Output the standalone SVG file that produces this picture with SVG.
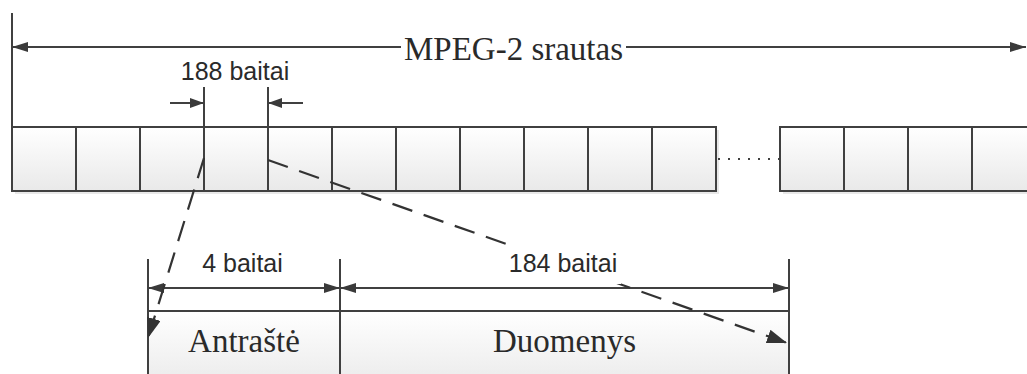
<svg xmlns="http://www.w3.org/2000/svg" width="1027" height="374" viewBox="0 0 1027 374">
  <defs>
    <linearGradient id="cellFill" x1="0" y1="0" x2="0" y2="1">
      <stop offset="0" stop-color="#ffffff"/>
      <stop offset="1" stop-color="#e9e9e9"/>
    </linearGradient>
    <marker id="arrow" viewBox="0 0 16 10" markerUnits="userSpaceOnUse" markerWidth="16" markerHeight="10" refX="16" refY="5" orient="auto-start-reverse">
      <path d="M0,0 L16,5 L0,10 Z" fill="#3a3a3a"/>
    </marker>
    <marker id="arrowSmall" viewBox="0 0 14 10" markerUnits="userSpaceOnUse" markerWidth="14" markerHeight="10" refX="14" refY="5" orient="auto-start-reverse">
      <path d="M0,0 L14,5 L0,10 Z" fill="#3a3a3a"/>
    </marker>
    <marker id="arrowLarge" viewBox="0 0 20 14" markerUnits="userSpaceOnUse" markerWidth="20" markerHeight="14" refX="20" refY="7" orient="auto">
      <path d="M0,0 L20,7 L0,14 Z" fill="#333333"/>
    </marker>
  </defs>
  <style>
    .cell { fill: url(#cellFill); stroke: #404040; stroke-width: 2; }
    .shadow { fill: #d8d8d8; opacity: 0.6; }
    .line { stroke: #404040; stroke-width: 2; fill: none; }
    .dim { stroke: #404040; stroke-width: 2; fill: none; }
    .dash { stroke: #333333; stroke-width: 2.2; fill: none; stroke-dasharray: 21 12; }
    .dots { stroke: #404040; stroke-width: 2; fill: none; stroke-dasharray: 2 8; }
    .sans { font-family: "Liberation Sans", Arial, sans-serif; font-size: 25px; fill: #2a2a2a; }
    .serif { font-family: "Liberation Serif", "Times New Roman", serif; font-size: 33px; fill: #2a2a2a; }
    .knockout { fill: #ffffff; }
  </style>

  <rect width="1027" height="374" fill="#ffffff"/>

  <!-- transport stream: first run of packets -->
  <g id="stream-left">
    <rect class="shadow" x="15" y="130" width="704" height="64"/>
    <rect class="cell" x="12" y="127" width="704" height="64"/>
    <path class="line" d="M76,127V191 M140,127V191 M204,127V191 M268,127V191 M332,127V191 M396,127V191 M460,127V191 M524,127V191 M588,127V191 M652,127V191"/>
  </g>

  <!-- transport stream: continuation after the gap -->
  <g id="stream-right">
    <rect class="shadow" x="783" y="130" width="260" height="64"/>
    <rect class="cell" x="780" y="127" width="260" height="64"/>
    <path class="line" d="M844,127V191 M908,127V191 M972,127V191"/>
  </g>

  <!-- packet header field -->
  <g id="header-field">
    <rect class="cell" x="148" y="311" width="192" height="80"/>
    <text class="serif" x="244" y="352" text-anchor="middle">Antraštė</text>
  </g>

  <!-- packet payload field -->
  <g id="payload-field">
    <rect class="cell" x="340" y="311" width="449" height="80"/>
    <text class="serif" x="564.5" y="352" text-anchor="middle">Duomenys</text>
  </g>

  <g id="connectors">
    <!-- whole-stream span -->
    <path class="line" d="M12,13V127"/>
    <line class="dim" x1="12" y1="47" x2="401" y2="47" marker-start="url(#arrow)"/>
    <line class="dim" x1="626" y1="47" x2="1026" y2="47" marker-end="url(#arrow)"/>

    <!-- single packet span -->
    <path class="line" d="M204,87V127 M268,87V127"/>
    <line class="dim" x1="170" y1="103" x2="204" y2="103" marker-end="url(#arrowSmall)"/>
    <line class="dim" x1="303" y1="103" x2="268" y2="103" marker-end="url(#arrowSmall)"/>

    <!-- elided packets -->
    <line class="dots" x1="718" y1="159" x2="780" y2="159"/>

    <!-- header / payload spans -->
    <path class="line" d="M148,259V311 M340,259V311 M789,259V311"/>
    <line class="dim" x1="148" y1="288" x2="340" y2="288" marker-start="url(#arrow)" marker-end="url(#arrow)"/>
    <line class="dim" x1="340" y1="288" x2="789" y2="288" marker-start="url(#arrow)" marker-end="url(#arrow)"/>

    <!-- packet expansion -->
    <line class="dash" x1="204" y1="158" x2="148" y2="338" marker-end="url(#arrowLarge)"/>
    <line class="dash" x1="268" y1="160" x2="787" y2="343" marker-end="url(#arrowLarge)"/>
  </g>

  <g id="labels">
    <rect class="knockout" x="401" y="30" width="225" height="34"/>
    <text class="serif" x="513.5" y="60" text-anchor="middle">MPEG-2 srautas</text>
    <text class="sans" x="235" y="80" text-anchor="middle">188 baitai</text>
    <text class="sans" x="242.5" y="272" text-anchor="middle">4 baitai</text>
    <rect class="knockout" x="507" y="246" width="114" height="38"/>
    <text class="sans" x="563" y="272" text-anchor="middle">184 baitai</text>
  </g>
</svg>
